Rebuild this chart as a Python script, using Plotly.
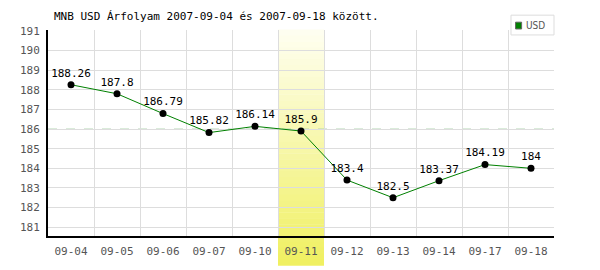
import plotly.graph_objects as go

categories = ["09-04", "09-05", "09-06", "09-07", "09-10", "09-11",
              "09-12", "09-13", "09-14", "09-17", "09-18"]
usd_values = [188.26, 187.8, 186.79, 185.82, 186.14, 185.9,
              183.4, 182.5, 183.37, 184.19, 184]
y_ticks = [181, 182, 183, 184, 185, 186, 187, 188, 189, 190, 191]
highlight_idx = 5
avg_line = 186.0

FONT = "DejaVu Sans Mono"
fig = go.Figure()

# gradient highlight band
n = 40
y0p, y1p = -0.145, 1.0
top_c = (255, 255, 242)
bot_c = (240, 240, 96)
shapes = []
for k in range(n):
    t = (k + 0.5) / n
    r = int(top_c[0] + (bot_c[0] - top_c[0]) * t)
    g = int(top_c[1] + (bot_c[1] - top_c[1]) * t)
    b = int(top_c[2] + (bot_c[2] - top_c[2]) * t)
    ya = y1p - (y1p - y0p) * k / n
    yb = y1p - (y1p - y0p) * (k + 1) / n
    shapes.append(dict(type="rect", xref="x", yref="paper",
                       x0=highlight_idx - 0.5, x1=highlight_idx + 0.5,
                       y0=yb, y1=ya + 0.002, fillcolor=f"rgb({r},{g},{b})",
                       line=dict(width=0), layer="below"))
# average dashed line
shapes.append(dict(type="line", xref="paper", yref="y", x0=0, x1=1,
                   y0=avg_line, y1=avg_line,
                   line=dict(color="#a8d0a8", width=1, dash="dash"), layer="below"))
# legend box
shapes.append(dict(type="rect", xref="paper", yref="paper",
                   x0=0.915, x1=1.0, y0=0.976, y1=1.072,
                   line=dict(color="#dddddd", width=1), fillcolor="white"))
shapes.append(dict(type="rect", xref="paper", yref="paper",
                   x0=0.924, x1=0.936, y0=1.005, y1=1.038,
                   line=dict(color="#666666", width=1), fillcolor="#008000"))

fig.add_trace(go.Scatter(
    x=list(range(len(categories))), y=usd_values,
    mode="lines+markers+text",
    line=dict(color="#008000", width=1),
    marker=dict(color="black", size=7),
    text=[f"{v:g}" for v in usd_values],
    textposition="top center",
    textfont=dict(family=FONT, size=11, color="black"),
    showlegend=False, cliponaxis=False,
))

fig.update_layout(
    width=600, height=270,
    margin=dict(l=48, r=46, t=30, b=32),
    paper_bgcolor="white", plot_bgcolor="white",
    shapes=shapes,
    annotations=[
        dict(text="MNB USD Árfolyam 2007-09-04 és 2007-09-18 között.",
             xref="paper", yref="paper", x=0.008, y=1.064, xanchor="left",
             yanchor="middle", showarrow=False,
             font=dict(family=FONT, size=11, color="black")),
        dict(text="USD", xref="paper", yref="paper", x=0.94, y=1.022,
             xanchor="left", yanchor="middle", showarrow=False,
             font=dict(family="DejaVu Sans Condensed", size=10, color="#555555")),
    ],
    xaxis=dict(
        range=[-0.5, len(categories) - 0.5],
        tickmode="array", tickvals=list(range(len(categories))),
        ticktext=categories,
        showgrid=False, zeroline=False,
        showline=True, linecolor="black", linewidth=2,
        ticks="", ticklabelstandoff=4,
        tickfont=dict(family=FONT, size=11, color="#555555"),
        minor=dict(tickvals=[i + 0.5 for i in range(len(categories) - 1)],
                   showgrid=True, gridcolor="#dddddd", gridwidth=1),
    ),
    yaxis=dict(
        range=[180.55, 191.05],
        tickmode="array", tickvals=y_ticks,
        showgrid=True, gridcolor="#dddddd", gridwidth=1,
        zeroline=False,
        showline=True, linecolor="black", linewidth=2,
        ticks="", ticklabelstandoff=4,
        tickfont=dict(family=FONT, size=11, color="#555555"),
    ),
)

fig.write_html("out.html")
